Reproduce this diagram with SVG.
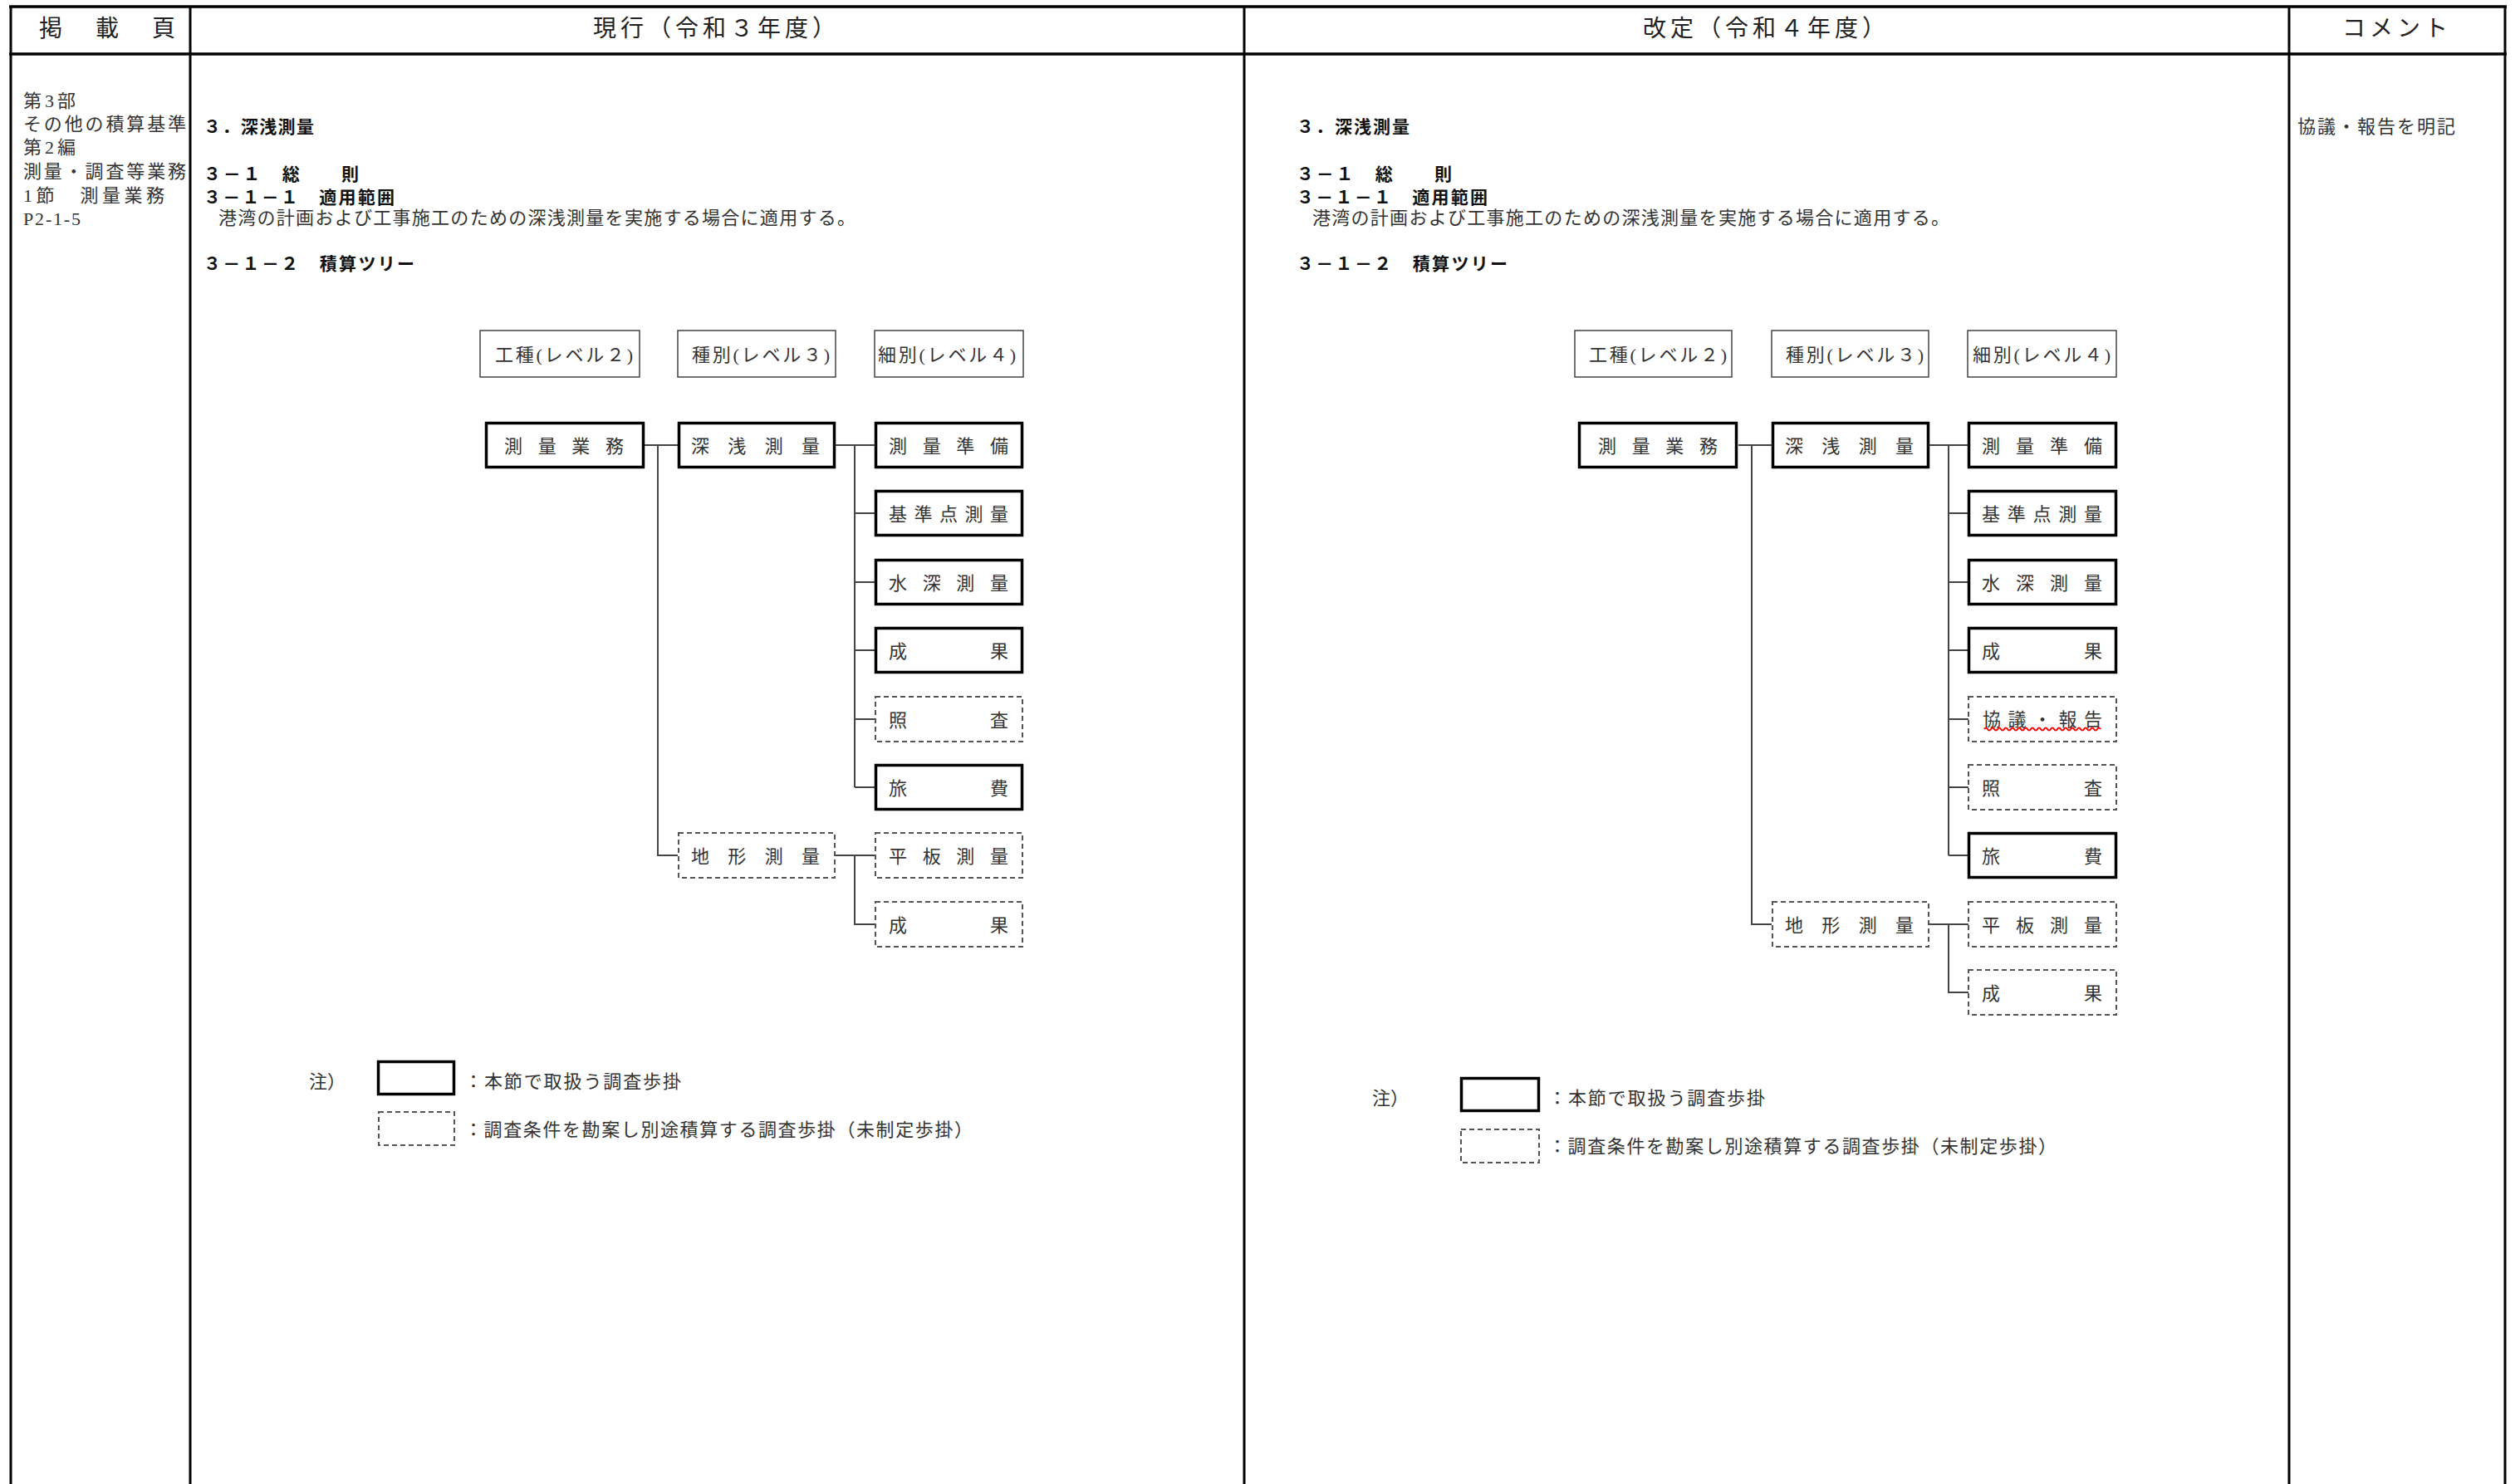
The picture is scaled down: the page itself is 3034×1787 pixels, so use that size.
<svg xmlns="http://www.w3.org/2000/svg" width="3034" height="1787" viewBox="0 0 3034 1787">
<style>
text{font-family:"Liberation Serif","Noto Sans CJK JP","Noto Sans CJK SC",serif;fill:#333;font-size:22px;dominant-baseline:central}
.hd{font-size:28px;fill:#222}
.bh{font-family:"Liberation Sans","Noto Sans CJK JP","Noto Sans CJK SC",sans-serif;font-weight:bold;fill:#111;font-size:21px}
.lh{font-size:22px}
.grid{stroke:#000;fill:none}
.s{fill:#fff;stroke:#000;stroke-width:3.5}
.d{fill:#fff;stroke:#555;stroke-width:2;stroke-dasharray:6 4}
.h{fill:#fff;stroke:#444;stroke-width:1.5}
.c{stroke:#444;stroke-width:2;fill:none}
.wave{stroke:#f00;stroke-width:2;fill:none}
</style>

<g id="table">
<line class="grid" x1="11" y1="8" x2="3018" y2="8" stroke-width="3.5"/>
<line class="grid" x1="11" y1="65" x2="3018" y2="65" stroke-width="3.5"/>
<line class="grid" x1="13" y1="7" x2="13" y2="1787" stroke-width="3"/>
<line class="grid" x1="229" y1="7" x2="229" y2="1787" stroke-width="3"/>
<line class="grid" x1="1498" y1="7" x2="1498" y2="1787" stroke-width="3"/>
<line class="grid" x1="2756" y1="7" x2="2756" y2="1787" stroke-width="3"/>
<line class="grid" x1="3016" y1="7" x2="3016" y2="1787" stroke-width="3"/>
</g>

<g id="headers">
<text class="hd" x="47" y="34" textLength="164">掲　載　頁</text>
<text class="hd" x="714" y="34" textLength="292">現行（令和３年度）</text>
<text class="hd" x="1978" y="34" textLength="292">改定（令和４年度）</text>
<text class="hd" x="2820" y="34" textLength="127">コメント</text>
</g>

<g id="page-ref">
<text x="28" y="121" textLength="63">第3部</text>
<text x="28" y="149" textLength="196">その他の積算基準</text>
<text x="28" y="177" textLength="63">第2編</text>
<text x="28" y="206" textLength="196">測量・調査等業務</text>
<text x="28" y="235" textLength="170">1節　測量業務</text>
<text x="28" y="263" textLength="69">P2-1-5</text>
</g>

<g id="current-text">
<text class="bh" x="245" y="152" textLength="133">３．深浅測量</text>
<text class="bh" x="245" y="209" textLength="187">３－１　総　　則</text>
<text class="bh" x="245" y="237" textLength="230">３－１－１　適用範囲</text>
<text x="263" y="262" textLength="767">港湾の計画および工事施工のための深浅測量を実施する場合に適用する。</text>
<text class="bh" x="245" y="317" textLength="254">３－１－２　積算ツリー</text>
</g>

<g id="revised-text">
<text class="bh" x="1561" y="152" textLength="136">３．深浅測量</text>
<text class="bh" x="1561" y="209" textLength="187">３－１　総　　則</text>
<text class="bh" x="1561" y="237" textLength="230">３－１－１　適用範囲</text>
<text x="1580" y="262" textLength="767">港湾の計画および工事施工のための深浅測量を実施する場合に適用する。</text>
<text class="bh" x="1561" y="317" textLength="254">３－１－２　積算ツリー</text>
</g>

<g id="comment">
<text x="2766" y="152" textLength="190">協議・報告を明記</text>
</g>

<!-- connectors -->
<g id="connectors">
<path class="c" d="M776 536H816 M792 536V1030H816 M1006 536H1053 M1029 536V948 M1029 618H1053 M1029 701H1053 M1029 783H1053 M1029 866H1053 M1029 948H1053 M1006 1030H1053 M1029 1030V1113H1053"/>
<path class="c" d="M2093 536H2133 M2109 536V1113H2133 M2323 536H2370 M2346 536V1030 M2346 618H2370 M2346 701H2370 M2346 783H2370 M2346 866H2370 M2346 948H2370 M2346 1030H2370 M2323 1113H2370 M2346 1113V1195H2370"/>
</g>

<!-- current tree -->
<g id="cur-h-l2"><rect class="h" x="578" y="398" width="192" height="56"/><text class="lh" x="596" y="427" textLength="166">工種(レベル２)</text></g>
<g id="cur-h-l3"><rect class="h" x="816" y="398" width="190" height="56"/><text class="lh" x="833" y="427" textLength="166">種別(レベル３)</text></g>
<g id="cur-h-l4"><rect class="h" x="1053" y="398" width="179" height="56"/><text class="lh" x="1057" y="427" textLength="166">細別(レベル４)</text></g>

<g id="cur-sokuryo-gyomu"><rect class="s" x="585.5" y="509.5" width="189" height="53"/><text x="607" y="537" textLength="144">測　量　業　務</text></g>
<g id="cur-shinsen"><rect class="s" x="817.5" y="509.5" width="187" height="53"/><text x="832" y="537" textLength="155">深　浅　測　量</text></g>
<g id="cur-junbi"><rect class="s" x="1054.5" y="509.5" width="176" height="53"/><text x="1070" y="537" textLength="144">測　量　準　備</text></g>
<g id="cur-kijunten"><rect class="s" x="1054.5" y="591.5" width="176" height="53"/><text x="1070" y="619" textLength="144">基準点測量</text></g>
<g id="cur-suishin"><rect class="s" x="1054.5" y="674.5" width="176" height="53"/><text x="1070" y="702" textLength="144">水　深　測　量</text></g>
<g id="cur-seika"><rect class="s" x="1054.5" y="756.5" width="176" height="53"/><text x="1070" y="784" textLength="144">成　　　　果</text></g>
<g id="cur-shosa"><rect class="d" x="1054" y="839" width="177" height="54"/><text x="1070" y="867" textLength="144">照　　　　査</text></g>
<g id="cur-ryohi"><rect class="s" x="1054.5" y="921.5" width="176" height="53"/><text x="1070" y="949" textLength="144">旅　　　　費</text></g>
<g id="cur-chikei"><rect class="d" x="817" y="1003" width="188" height="54"/><text x="832" y="1031" textLength="155">地　形　測　量</text></g>
<g id="cur-heiban"><rect class="d" x="1054" y="1003" width="177" height="54"/><text x="1070" y="1031" textLength="144">平　板　測　量</text></g>
<g id="cur-chikei-seika"><rect class="d" x="1054" y="1086" width="177" height="54"/><text x="1070" y="1114" textLength="144">成　　　　果</text></g>

<g id="cur-legend">
<text x="372" y="1302">注）</text>
<rect class="s" x="455.5" y="1278.5" width="91" height="39"/>
<text x="559" y="1302" textLength="261">：本節で取扱う調査歩掛</text>
<rect class="d" x="456" y="1339" width="91" height="40"/>
<text x="559" y="1360" textLength="612">：調査条件を勘案し別途積算する調査歩掛（未制定歩掛）</text>
</g>

<!-- revised tree -->
<g id="rev-h-l2"><rect class="h" x="1896" y="398" width="189" height="56"/><text class="lh" x="1913" y="427" textLength="166">工種(レベル２)</text></g>
<g id="rev-h-l3"><rect class="h" x="2133" y="398" width="189" height="56"/><text class="lh" x="2150" y="427" textLength="166">種別(レベル３)</text></g>
<g id="rev-h-l4"><rect class="h" x="2369" y="398" width="179" height="56"/><text class="lh" x="2375" y="427" textLength="166">細別(レベル４)</text></g>

<g id="rev-sokuryo-gyomu"><rect class="s" x="1901.5" y="509.5" width="189" height="53"/><text x="1924" y="537" textLength="144">測　量　業　務</text></g>
<g id="rev-shinsen"><rect class="s" x="2134.5" y="509.5" width="187" height="53"/><text x="2149" y="537" textLength="155">深　浅　測　量</text></g>
<g id="rev-junbi"><rect class="s" x="2370.5" y="509.5" width="177" height="53"/><text x="2386" y="537" textLength="145">測　量　準　備</text></g>
<g id="rev-kijunten"><rect class="s" x="2370.5" y="591.5" width="177" height="53"/><text x="2386" y="619" textLength="145">基準点測量</text></g>
<g id="rev-suishin"><rect class="s" x="2370.5" y="674.5" width="177" height="53"/><text x="2386" y="702" textLength="145">水　深　測　量</text></g>
<g id="rev-seika"><rect class="s" x="2370.5" y="756.5" width="177" height="53"/><text x="2386" y="784" textLength="145">成　　　　果</text></g>
<g id="rev-kyogi"><rect class="d" x="2370" y="839" width="178" height="54"/><text x="2387" y="866" textLength="144">協議・報告</text>
<path class="wave" d="M2389 878q2 -3 4 0t4 0t4 0t4 0t4 0t4 0t4 0t4 0t4 0t4 0t4 0t4 0t4 0t4 0t4 0t4 0t4 0t4 0t4 0t4 0t4 0t4 0t4 0t4 0t4 0t4 0t4 0t4 0t4 0t4 0t4 0t4 0t4 0t4 0t4 0"/></g>
<g id="rev-shosa"><rect class="d" x="2370" y="921" width="178" height="54"/><text x="2386" y="949" textLength="145">照　　　　査</text></g>
<g id="rev-ryohi"><rect class="s" x="2370.5" y="1003.5" width="177" height="53"/><text x="2386" y="1031" textLength="145">旅　　　　費</text></g>
<g id="rev-chikei"><rect class="d" x="2134" y="1086" width="188" height="54"/><text x="2149" y="1114" textLength="155">地　形　測　量</text></g>
<g id="rev-heiban"><rect class="d" x="2370" y="1086" width="178" height="54"/><text x="2386" y="1114" textLength="145">平　板　測　量</text></g>
<g id="rev-chikei-seika"><rect class="d" x="2370" y="1168" width="178" height="54"/><text x="2386" y="1196" textLength="145">成　　　　果</text></g>

<g id="rev-legend">
<text x="1652" y="1322">注）</text>
<rect class="s" x="1759.5" y="1298.5" width="93" height="39"/>
<text x="1864" y="1322" textLength="261">：本節で取扱う調査歩掛</text>
<rect class="d" x="1759" y="1360" width="94" height="40"/>
<text x="1864" y="1380" textLength="612">：調査条件を勘案し別途積算する調査歩掛（未制定歩掛）</text>
</g>
</svg>
